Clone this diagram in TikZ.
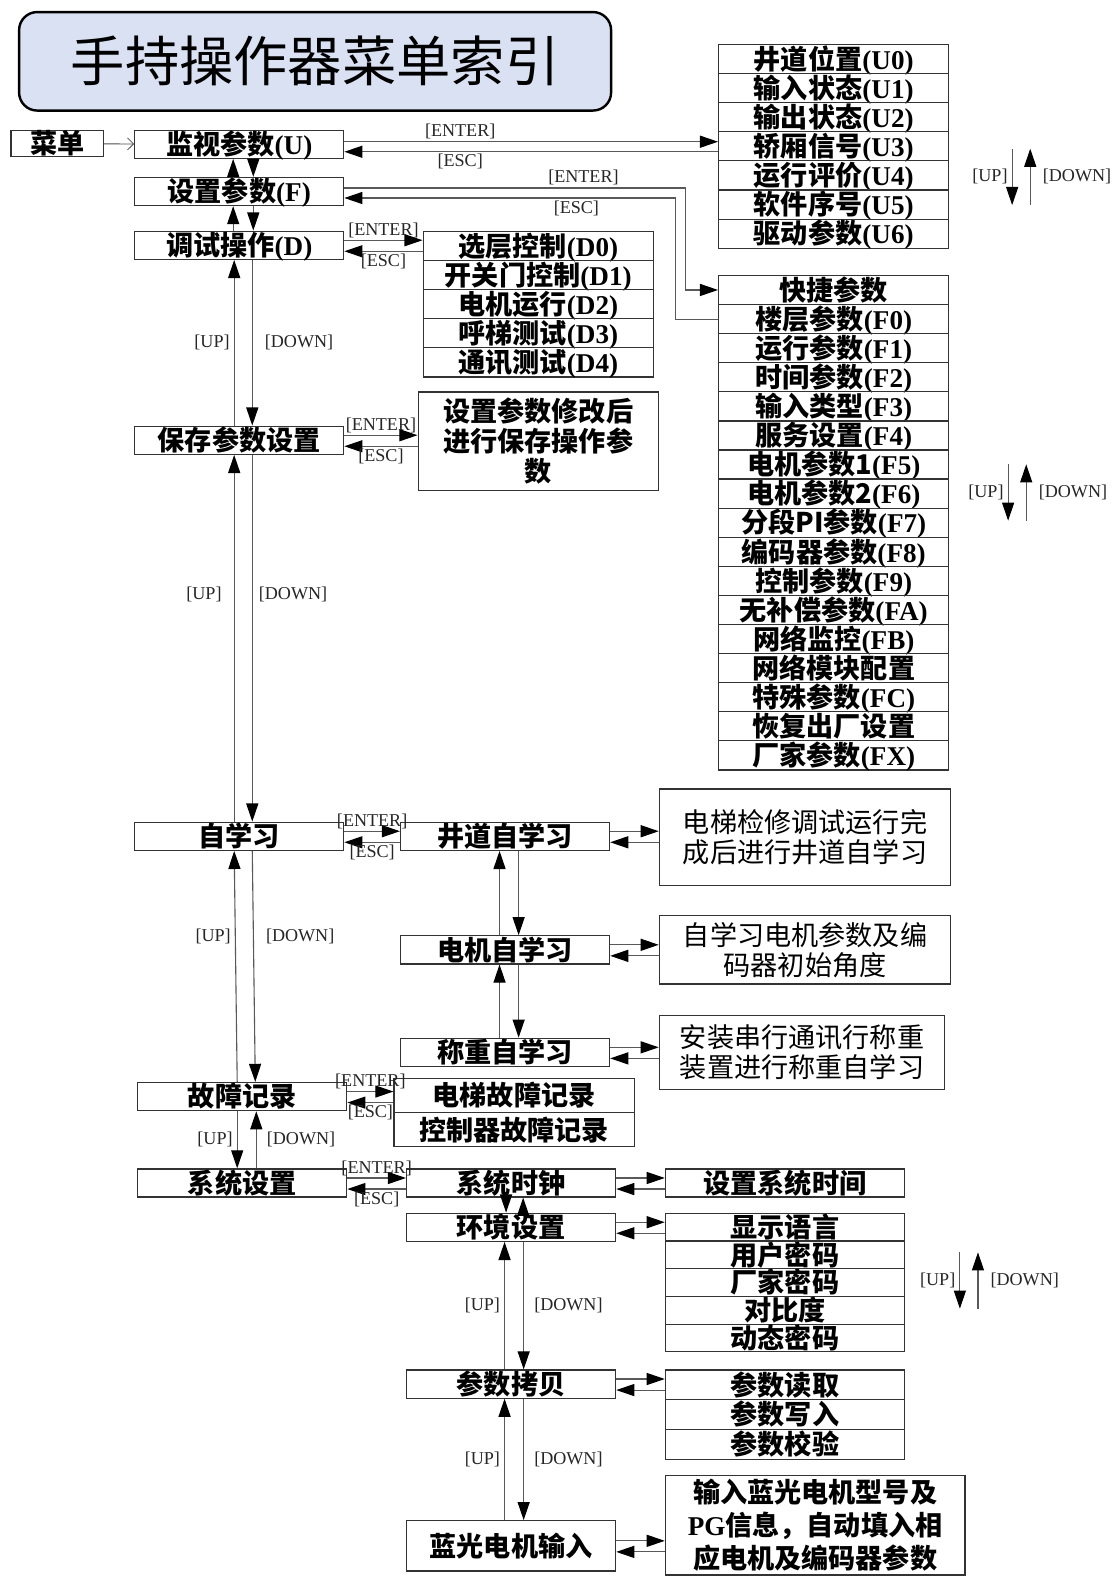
\documentclass[tikz,border=0pt]{standalone}
\usepackage{fontspec}
\setmainfont{Liberation Serif}
\newfontfamily\cjk{Noto Sans CJK SC}
\usetikzlibrary{arrows.meta,calc}
\definecolor{titlefill}{RGB}{217,225,242}
\newcommand\kc[1]{{\rmfamily\bfseries(#1)}}
\tikzset{
  cellbox/.style={draw=black!80, line width=0.6pt, inner sep=0pt, text height=11.5pt, text depth=1.3pt, font=\cjk\bfseries\fontsize{13.5}{15}\selectfont},
  mainbox/.style={cellbox, minimum width=104pt, minimum height=14pt},
  listbox/.style={cellbox, minimum width=114.5pt, minimum height=14.5pt},
  desc/.style={draw=black!80, line width=0.6pt, inner sep=0pt, align=center, font=\cjk\fontsize{13.5}{15}\selectfont},
  arr/.style={draw=black!65, line width=0.55pt, -{Triangle[length=9pt,width=6pt,fill=black,color=black]}},
  keylab/.style={font=\fontsize{9}{10}\selectfont, inner sep=1pt, text=black!85},
  titlebox/.style={draw=black, line width=1.2pt, rounded corners=9pt, fill=titlefill, minimum width=294.5pt, minimum height=49pt, font=\cjk\fontsize{27}{30}\selectfont},
}
\begin{document}
\begin{tikzpicture}[x=0.5pt, y=-0.5pt]
    \useasboundingbox (0,0) rectangle (1107,1568);

    % 标题
    \node[titlebox] (title) at (313.5,61) {手持操作器菜单索引};

    % 左侧主菜单
    \node[cellbox, minimum width=46pt, minimum height=13pt] (menu) at (57,143) {菜单};
    \node[mainbox] (mon) at (238,143.5) {监视参数\kc{U}};
    \node[mainbox] (set) at (238,190.5) {设置参数\kc{F}};
    \node[mainbox] (dbg) at (238,244) {调试操作\kc{D}};
    \node[mainbox] (save) at (238,438) {保存参数设置};
    \node[mainbox] (learn) at (238,832) {自学习};
    \node[mainbox] (fault) at (241,1091) {故障记录};
    \node[mainbox] (sys) at (241,1177) {系统设置};

    % 监视参数 / 设置参数 / 调试操作 的子菜单
    \foreach \txt [count=\i from 0] in {井道位置\kc{U0},输入状态\kc{U1},输出状态\kc{U2},轿厢信号\kc{U3},运行评价\kc{U4},软件序号\kc{U5},驱动参数\kc{U6}}
        \node[listbox] (u\i) at (829.5,{58.5+29*\i}) {\txt};
    \foreach \txt [count=\i from 0] in {快捷参数,楼层参数\kc{F0},运行参数\kc{F1},时间参数\kc{F2},输入类型\kc{F3},服务设置\kc{F4},电机参数1\kc{F5},电机参数2\kc{F6},分段PI参数\kc{F7},编码器参数\kc{F8},控制参数\kc{F9},无补偿参数\kc{FA},网络监控\kc{FB},网络模块配置,特殊参数\kc{FC},恢复出厂设置,厂家参数\kc{FX}}
        \node[listbox] (fp\i) at (829.5,{288.5+28.94*\i}) {\txt};
    \foreach \txt [count=\i from 0] in {选层控制\kc{D0},开关门控制\kc{D1},电机运行\kc{D2},呼梯测试\kc{D3},通讯测试\kc{D4}}
        \node[listbox] (d\i) at (535.5,{244.5+29*\i}) {\txt};

    \node[desc, font=\cjk\bfseries\fontsize{13.5}{15}\selectfont, minimum width=119.5pt, minimum height=49pt] (sd) at (535.5,439) {设置参数修改后\\进行保存操作参\\数};

    % 自学习
    \node[mainbox] (jd) at (502.5,832) {井道自学习};
    \node[mainbox] (dj) at (502.5,945) {电机自学习};
    \node[mainbox] (cz) at (502.5,1047) {称重自学习};
    \node[desc, minimum width=145pt, minimum height=48pt] (dA) at (801,833) {电梯检修调试运行完\\成后进行井道自学习};
    \node[desc, minimum width=145pt, minimum height=34pt] (dB) at (801,945) {自学习电机参数及编\\码器初始角度};
    \node[desc, minimum width=142pt, minimum height=37pt] (dC) at (798,1047) {安装串行通讯行称重\\装置进行称重自学习};

    % 故障记录
    \foreach \txt [count=\i from 0] in {电梯故障记录,控制器故障记录}
        \node[cellbox, minimum width=119.5pt, minimum height=17pt] (fl\i) at (511.5,{1090+34*\i}) {\txt};

    % 系统设置
    \node[mainbox] (clk) at (508.5,1177) {系统时钟};
    \node[mainbox] (env) at (508.5,1221) {环境设置};
    \node[mainbox] (copy) at (508.5,1377) {参数拷贝};
    \node[mainbox, minimum height=25pt] (blue) at (508.5,1538) {蓝光电机输入};
    \node[cellbox, minimum width=119pt, minimum height=14pt] (st) at (781,1177) {设置系统时间};
    \foreach \txt [count=\i from 0] in {显示语言,用户密码,厂家密码,对比度,动态密码}
        \node[cellbox, minimum width=119pt, minimum height=13.8pt] (e\i) at (781,{1220.8+27.6*\i}) {\txt};
    \foreach \txt [count=\i from 0] in {参数读取,参数写入,参数校验}
        \node[cellbox, minimum width=119pt, minimum height=14.85pt] (c\i) at (781,{1377.8+29.7*\i}) {\txt};
    \node[desc, font=\cjk\bfseries\fontsize{13.5}{16.3}\selectfont, minimum width=149pt, minimum height=49.5pt] (bd) at (811,1517.5) {输入蓝光电机型号及\\{\rmfamily PG}信息，自动填入相\\应电机及编码器参数};

    % 菜单入口
    \draw[black!70, line width=0.4pt, -{Straight Barb[length=3pt,width=6pt]}] (menu) -- (mon);

    % 主菜单上下切换
    \foreach \a/\b in {mon/set, set/dbg} {
        \draw[arr] ([xshift=-3pt]\b.north) -- ([xshift=-3pt]\a.south);
        \draw[arr] ([xshift=7pt]\a.south) -- ([xshift=7pt]\b.north);
    }
    \draw[arr] ([xshift=-2.5pt]save.north) -- node[keylab, left, xshift=-1pt] {[UP]} ([xshift=-2.5pt]dbg.south);
    \draw[arr] ([xshift=6.5pt]dbg.south) -- node[keylab, right, xshift=5pt] {[DOWN]} ([xshift=6.5pt]save.north);
    \draw[arr] ([xshift=-2.5pt]learn.north) -- node[keylab, left, xshift=-5pt, pos=0.62] {[UP]} ([xshift=-2.5pt]save.south);
    \draw[arr] ([xshift=6.5pt]save.south) -- node[keylab, right, xshift=2pt, pos=0.38] {[DOWN]} ([xshift=6.5pt]learn.north);
    \draw[arr] ([xshift=-2.5pt]fault.north) -- node[keylab, left, xshift=-1pt, pos=0.63] {[UP]} ([xshift=-2.5pt]learn.south);
    \draw[arr] ([xshift=6.5pt]learn.south) -- node[keylab, right, xshift=5pt, pos=0.37] {[DOWN]} ([xshift=6.5pt]fault.north);
    \draw[arr] ([xshift=-2.5pt]fault.south) -- node[keylab, left, xshift=-1pt] {[UP]} ([xshift=-2.5pt]sys.north);
    \draw[arr] ([xshift=7pt]sys.north) -- node[keylab, right, xshift=4pt] {[DOWN]} ([xshift=7pt]fault.south);

    % [ENTER] / [ESC]
    \draw[arr] ([yshift=1.25pt]mon.east) -- node[keylab, above, pos=0.31] {[ENTER]} ([yshift=1.25pt]mon.east -| u3.west);
    \draw[arr] ([yshift=-3.75pt]mon.east -| u3.west) -- node[keylab, below, pos=0.69] {[ESC]} ([yshift=-3.75pt]mon.east);
    \draw[arr] ([yshift=1.75pt]set.east) -| node[keylab, above, pos=0.35] {[ENTER]} ([xshift=-16pt]fp0.west) -- (fp0.west);
    \draw[arr] (fp1.west) -- ([xshift=-21pt]fp1.west) |- node[keylab, below, pos=0.65] {[ESC]} ([yshift=-3.25pt]set.east);
    \foreach \a/\b in {dbg/d0, save/sd, learn/jd, fault/fl0, sys/clk} {
        \draw[arr] ([yshift=2.5pt]\a.east) -- node[keylab, above] {[ENTER]} ([yshift=2.5pt]\a.east -| \b.west);
        \draw[arr] ([yshift=-3pt]\a.east -| \b.west) -- node[keylab, below] {[ESC]} ([yshift=-3pt]\a.east);
    }

    % 子菜单之间切换
    \foreach \a/\b in {jd/dj, dj/cz} {
        \draw[arr] ([xshift=-2.75pt]\b.north) -- ([xshift=-2.75pt]\a.south);
        \draw[arr] ([xshift=6.75pt]\a.south) -- ([xshift=6.75pt]\b.north);
    }
    \draw[arr] ([xshift=-2.5pt]clk.south) -- ([xshift=-2.5pt]env.north);
    \draw[arr] ([xshift=6pt]env.north) -- ([xshift=6pt]clk.south);
    \foreach \a/\b in {env/copy, copy/blue} {
        \draw[arr] ([xshift=-3.25pt]\b.north) -- node[keylab, left, xshift=-1pt] {[UP]} ([xshift=-3.25pt]\a.south);
        \draw[arr] ([xshift=6.25pt]\a.south) -- node[keylab, right, xshift=4pt] {[DOWN]} ([xshift=6.25pt]\b.north);
    }

    % 右侧说明框 / 列表
    \foreach \a/\b in {jd/dA, dj/dB, cz/dC, clk/st, env/e0, copy/c0, blue/bd} {
        \draw[arr] ([yshift=2.5pt]\a.east) -- ([yshift=2.5pt]\a.east -| \b.west);
        \draw[arr] ([yshift=-3pt]\a.east -| \b.west) -- ([yshift=-3pt]\a.east);
    }

    % 列表内 [UP] [DOWN]
    \foreach \x/\y/\n in {1007/148/1, 1003/462/2, 955/1246/3} {
        \coordinate (ud\n a) at (\x,\y);
        \coordinate (ud\n b) at (\x,{\y+56});
        \draw[arr] (ud\n a) -- node[keylab, left, xshift=-1pt] {[UP]} (ud\n b);
        \draw[arr] ([xshift=9pt]ud\n b) -- node[keylab, right, xshift=5pt] {[DOWN]} ([xshift=9pt]ud\n a);
    }
\end{tikzpicture}
\end{document}
